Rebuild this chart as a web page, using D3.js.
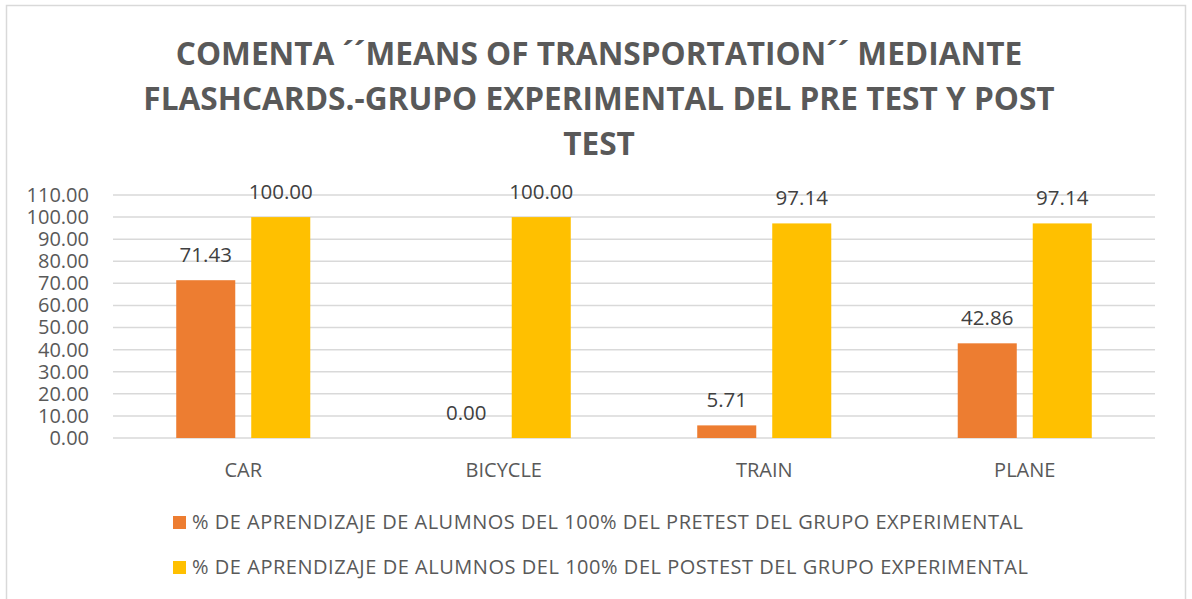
<!DOCTYPE html>
<html>
<head>
<meta charset="utf-8">
<script src="https://cdn.jsdelivr.net/npm/d3@7"></script>
<style>
  html, body { margin: 0; padding: 0; background: #fff; }
  svg { display: block; font-family: "Open Sans", "Liberation Sans", sans-serif; }
</style>
</head>
<body>
<svg id="chart" width="1192" height="599"></svg>
<script>
// Chart data
const titleLines = [
  "COMENTA \u00B4\u00B4MEANS OF TRANSPORTATION\u00B4\u00B4 MEDIANTE",
  "FLASHCARDS.-GRUPO EXPERIMENTAL DEL PRE TEST Y POST",
  "TEST"
];
const categories = ["CAR", "BICYCLE", "TRAIN", "PLANE"];
const seriesNames = [
  "% DE APRENDIZAJE DE ALUMNOS DEL 100% DEL PRETEST DEL GRUPO EXPERIMENTAL",
  "% DE APRENDIZAJE DE ALUMNOS DEL 100% DEL POSTEST DEL GRUPO EXPERIMENTAL"
];
const pretest = [71.43, 0.00, 5.71, 42.86];
const postest = [100.00, 100.00, 97.14, 97.14];
const yTicks = [0, 10, 20, 30, 40, 50, 60, 70, 80, 90, 100, 110];
const colors = ["#ED7D31", "#FFC000"];

const series = [pretest, postest];
const textColor = "#595959";
const gridColor = "#D9D9D9";

const svg = d3.select("#chart");

// Outer frame
svg.append("rect")
  .attr("x", 6.5).attr("y", 5.5)
  .attr("width", 1179).attr("height", 600)
  .attr("fill", "#fff")
  .attr("stroke", gridColor).attr("stroke-width", 1.5);

// Title
svg.append("g").selectAll("text")
  .data(titleLines)
  .join("text")
  .attr("x", 599)
  .attr("y", (d, i) => 65 + i * 45)
  .attr("text-anchor", "middle")
  .attr("font-size", 31.6)
  .attr("font-weight", 700)
  .attr("fill", textColor)
  .text(d => d);

// Scales
const plot = { left: 113, right: 1155, top: 195, bottom: 438 };
const y = d3.scaleLinear().domain([0, 110]).range([plot.bottom, plot.top]);
const x0 = d3.scaleBand().domain(categories).range([plot.left, plot.right]).padding(0);
const x1 = d3.scaleBand().domain([0, 1]).range([0, x0.bandwidth()])
  .paddingInner(0.213).paddingOuter(0.843);

// Gridlines
svg.append("g").selectAll("line")
  .data(yTicks)
  .join("line")
  .attr("x1", plot.left).attr("x2", plot.right)
  .attr("y1", d => y(d)).attr("y2", d => y(d))
  .attr("stroke", gridColor).attr("stroke-width", 1.5);

// Y axis labels
const yAxis = svg.append("g")
  .attr("transform", `translate(${plot.left},0)`)
  .call(d3.axisLeft(y).tickValues(yTicks).tickFormat(d3.format(".2f")).tickSize(0).tickPadding(24));
yAxis.select(".domain").remove();
yAxis.selectAll("text")
  .attr("font-family", "Open Sans, sans-serif")
  .attr("font-size", 20)
  .attr("fill", textColor);

// Bars
const groups = svg.append("g").selectAll("g")
  .data(categories)
  .join("g")
  .attr("transform", d => `translate(${x0(d)},0)`);

groups.selectAll("rect")
  .data((d, i) => series.map((s, k) => ({ k, v: s[i] })))
  .join("rect")
  .attr("x", d => x1(d.k))
  .attr("width", x1.bandwidth())
  .attr("y", d => y(d.v))
  .attr("height", d => y(0) - y(d.v))
  .attr("fill", d => colors[d.k]);

// Value labels
groups.selectAll("text.val")
  .data((d, i) => series.map((s, k) => ({ k, v: s[i] })))
  .join("text")
  .attr("class", "val")
  .attr("x", d => x1(d.k) + x1.bandwidth() / 2)
  .attr("y", d => y(d.v) - 18)
  .attr("text-anchor", "middle")
  .attr("font-size", 20.5)
  .attr("fill", "#404040")
  .text(d => d3.format(".2f")(d.v));

// Category labels
svg.append("g").selectAll("text")
  .data(categories)
  .join("text")
  .attr("x", d => x0(d) + x0.bandwidth() / 2)
  .attr("y", 477)
  .attr("text-anchor", "middle")
  .attr("font-size", 20)
  .attr("fill", textColor)
  .text(d => d);

// Legend
const legend = svg.append("g").selectAll("g")
  .data(seriesNames)
  .join("g")
  .attr("transform", (d, i) => `translate(173,${516 + i * 45})`);
legend.append("rect")
  .attr("width", 13).attr("height", 13)
  .attr("fill", (d, i) => colors[i]);
legend.append("text")
  .attr("x", 19).attr("y", 13)
  .attr("font-size", 20)
  .attr("textLength", (d, i) => i === 0 ? 831 : 836)
  .attr("lengthAdjust", "spacing")
  .attr("fill", textColor)
  .text(d => d);
</script>
</body>
</html>
